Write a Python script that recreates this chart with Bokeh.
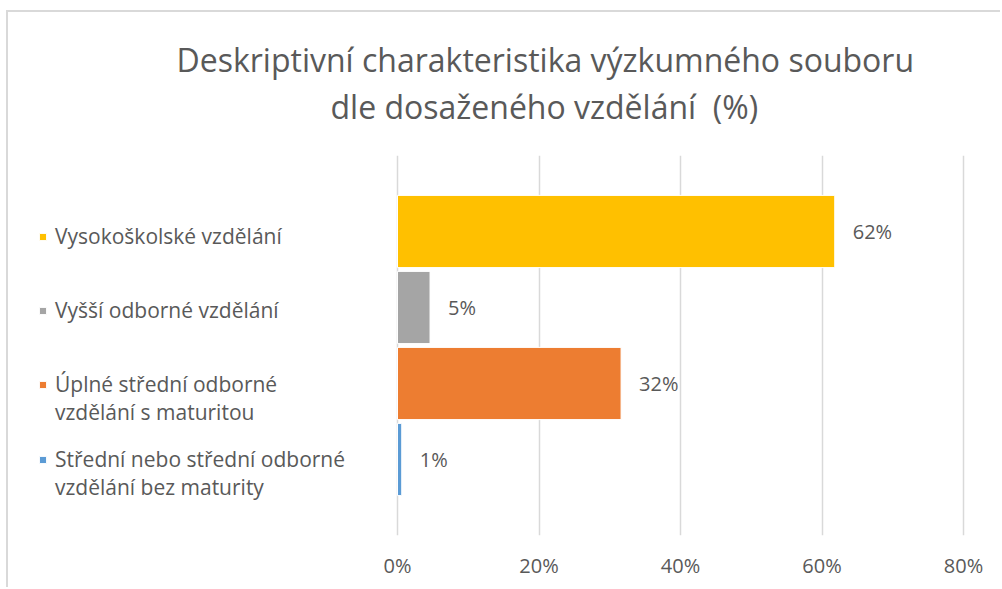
from bokeh.plotting import figure
from bokeh.models import (Range1d, FixedTicker, Legend, LegendItem, ColumnDataSource,
                          Title, CustomJSTickFormatter)
from bokeh.core.properties import value
from bokeh.embed import file_html
from bokeh.resources import INLINE

# ---- data ----
categories = [
    "Vysokoškolské vzdělání",
    "Vyšší odborné vzdělání",
    "Úplné střední odborné\nvzdělání s maturitou",
    "Střední nebo střední odborné\nvzdělání bez maturity",
]
values = [61.8, 4.6, 31.6, 0.6]
value_labels = ["62%", "5%", "32%", "1%"]
colors = ["#FFC000", "#A5A5A5", "#ED7D31", "#5B9BD5"]
tick_values = [0, 20, 40, 60, 80]
title_lines = ["Deskriptivní charakteristika výzkumného souboru",
               "dle dosaženého vzdělání\u00a0\u00a0(%)"]

FONT = "Open Sans"
TXT = "#595959"

positions = [4, 3, 2, 1]

p = figure(width=994, height=577, output_backend="svg", toolbar_location=None,
           title=None,
           x_range=Range1d(-54.98, 85.51), y_range=Range1d(0, 5),
           min_border_left=0, min_border_right=0, min_border_top=143, min_border_bottom=54)
p.outline_line_color = None
p.yaxis.visible = False
p.ygrid.visible = False

p.xaxis.ticker = FixedTicker(ticks=tick_values)
p.xaxis.formatter = CustomJSTickFormatter(code="return tick + '%';")
p.xaxis.axis_line_color = None
p.xaxis.major_tick_line_color = None
p.xaxis.minor_tick_line_color = None
p.xaxis.major_tick_out = 0
p.xaxis.major_tick_in = 0
p.xaxis.major_label_standoff = 16
p.xaxis.major_label_text_font = FONT
p.xaxis.major_label_text_font_size = "20px"
p.xaxis.major_label_text_color = TXT
p.xgrid.ticker = FixedTicker(ticks=tick_values)
p.xgrid.grid_line_color = "#D9D9D9"
p.xgrid.grid_line_width = 1.5

# title: two lines, each centred at the same x (added nearest-to-frame first)
t2 = Title(text=title_lines[1], align="left", text_font=FONT, text_font_size="32px",
           text_color=TXT, text_font_style="normal", offset=322, standoff=56)
t1 = Title(text=title_lines[0], align="left", text_font=FONT, text_font_size="32px",
           text_color=TXT, text_font_style="normal", offset=168, standoff=-53)
p.add_layout(t2, "above")
p.add_layout(t1, "above")

renderers = []
for cat, v, c, pos in zip(categories, values, colors, positions):
    src = ColumnDataSource(dict(y=[pos], right=[v]))
    r = p.hbar(y="y", right="right", left=0, height=0.95, source=src,
               fill_color=c, line_color="white", line_width=1)
    renderers.append(r)

# invisible glyph used for the second line of two-line legend labels
blank = p.hbar(y=[], right=[], left=0, height=0.95, fill_alpha=0, line_alpha=0)

lab_src = ColumnDataSource(dict(x=values, y=positions, text=value_labels))
p.text(x="x", y="y", text="text", source=lab_src, x_offset=18, y_offset=0,
       text_baseline="middle", text_align="left", text_font=value(FONT),
       text_font_size="20px", text_color=TXT)

# one legend per entry, positioned next to its bar
leg_y = [285, 211, 109, 34]
for cat, r, ly in zip(categories, renderers, leg_y):
    lines = cat.split("\n")
    items = [LegendItem(label=lines[0], renderers=[r])]
    for extra in lines[1:]:
        items.append(LegendItem(label=extra, renderers=[blank]))
    lg = Legend(items=items, location=(30, ly),
                glyph_width=9, glyph_height=9, padding=0, margin=0, spacing=0,
                label_height=27, border_line_color=None, background_fill_alpha=0,
                label_text_font=FONT, label_text_font_size="21px",
                label_text_color=TXT, label_standoff=8, label_text_line_height=1.2)
    p.add_layout(lg, "center")

p.styles = {"margin-left": "6px", "margin-top": "10px",
            "border-left": "2px solid #D9D9D9", "border-top": "2px solid #D9D9D9"}

open("out.html", "w").write(file_html(p, INLINE))
